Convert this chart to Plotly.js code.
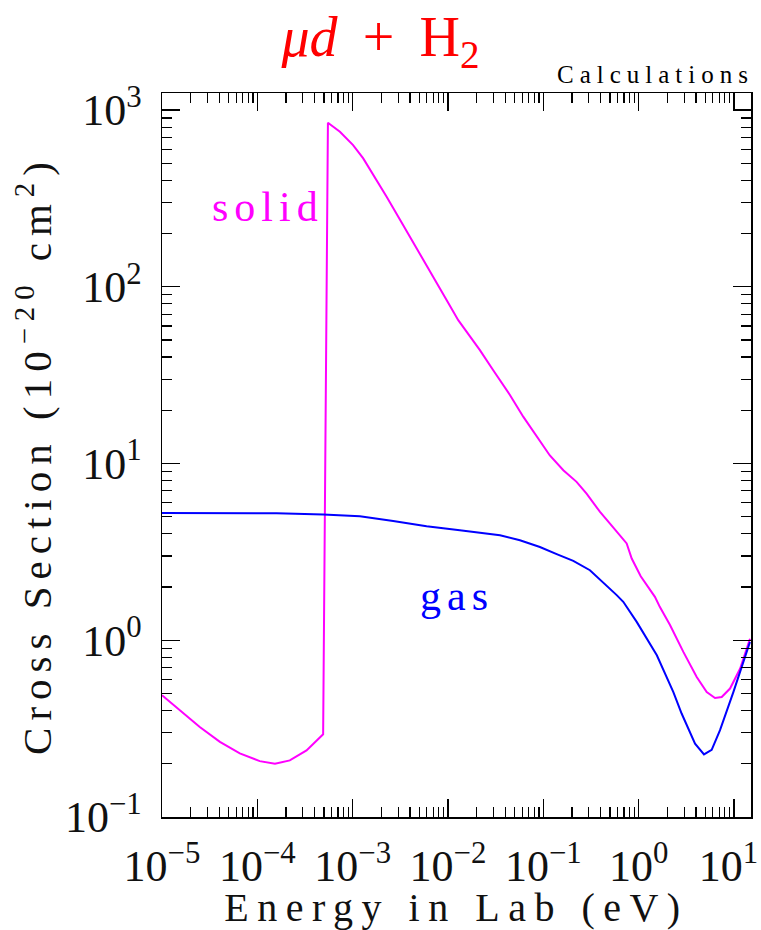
<!DOCTYPE html>
<html>
<head>
<meta charset="utf-8">
<script src="https://cdn.plot.ly/plotly-3.0.1.min.js"></script>
<style>
html,body{margin:0;padding:0;background:#fff;}
text.xtitle{letter-spacing:8.5px;}
text.ytitle{letter-spacing:7px;}
text.annotation-text{letter-spacing:6px;}
</style>
</head>
<body>
<div id="chart" style="width:761px;height:930px;"></div>
<script>
// Energy in lab frame (eV)
const solidEnergy = [1.0e-5, 1.54e-5, 2.49e-5, 4.05e-5, 6.55e-5, 1.06e-4, 1.53e-4, 2.19e-4, 3.28e-4, 4.90e-4,
  5.50e-4, 7.35e-4, 1.01e-3, 1.29e-3, 1.78e-3, 2.27e-3, 3.39e-3, 5.07e-3, 7.58e-3, 9.66e-3, 1.28e-2,
  2.16e-2, 2.98e-2, 4.46e-2, 6.15e-2, 8.51e-2, 0.117, 0.162, 0.223, 0.284, 0.393, 0.50, 0.748, 0.845,
  1.05, 1.48, 1.67, 2.13, 2.94, 4.06, 5.17, 6.32, 7.43, 9.08, 11.6, 14.7];
// Cross section, solid target (1e-20 cm^2)
const solidSigma = [0.489, 0.402, 0.323, 0.266, 0.229, 0.207, 0.200, 0.209, 0.238, 0.294,
  847, 753, 633, 532, 401, 323, 223, 154, 107, 84, 64.7,
  43.8, 33.7, 24.4, 18.4, 14.2, 11.1, 9.16, 7.87, 6.76, 5.32, 4.57, 3.53, 2.90,
  2.30, 1.76, 1.54, 1.22, 0.859, 0.620, 0.509, 0.471, 0.477, 0.533, 0.692, 1.02];

const gasEnergy = [1.0e-5, 4.05e-5, 1.59e-4, 4.90e-4, 1.19e-3, 2.66e-3, 5.96e-3, 1.33e-2, 1.84e-2,
  3.51e-2, 5.68e-2, 9.2e-2, 0.138, 0.206, 0.308, 0.461, 0.588, 0.689, 0.953, 1.55, 2.31, 2.82,
  3.90, 4.84, 5.83, 7.13, 9.84, 14.7];
const gasSigma = [5.25, 5.23, 5.23, 5.15, 5.03, 4.73, 4.42, 4.19, 4.10,
  3.93, 3.68, 3.37, 3.07, 2.81, 2.49, 2.05, 1.80, 1.65, 1.27, 0.822, 0.509, 0.385,
  0.260, 0.226, 0.240, 0.310, 0.509, 0.977];

const xTickVals = [1e-5, 1e-4, 1e-3, 1e-2, 1e-1, 1, 10];
const xTickText = ['10<sup>\u22125</sup>', '10<sup>\u22124</sup>', '10<sup>\u22123</sup>', '10<sup>\u22122</sup>',
  '10<sup>\u22121</sup>', '10<sup>0</sup>', '10<sup>1</sup>\u00a0'];
const yTickVals = [0.1, 1, 10, 100, 1000];
const yTickText = ['10<sup>\u22121</sup>', '10<sup>0</sup>', '10<sup>1</sup>', '10<sup>2</sup>', '10<sup>3</sup>'];

const seriesNames = ['solid', 'gas'];
const titleText = '<i>\u03bcd</i>\u2009 + \u2009H<sub>2</sub>';
const xTitle = 'Energy in Lab (eV)';
const yTitle = 'Cross Section (10<sup>\u221220</sup> cm<sup>2</sup>)';
const noteText = 'Calculations';

const SERIF = '"Liberation Serif", "DejaVu Serif", serif';

const traces = [
  {x: solidEnergy, y: solidSigma, name: seriesNames[0], type: 'scatter', mode: 'lines',
   line: {color: '#ff00ff', width: 2}},
  {x: gasEnergy, y: gasSigma, name: seriesNames[1], type: 'scatter', mode: 'lines',
   line: {color: '#0000ff', width: 2}}
];

const axisCommon = {
  type: 'log', showgrid: false, zeroline: false,
  showline: true, linecolor: '#000', linewidth: 1.5, mirror: 'allticks',
  ticks: 'inside', ticklen: 18, tickwidth: 1.2, tickcolor: '#000',
  tickmode: 'array', tickangle: 0, ticklabeloverflow: 'allow',
  minor: {ticks: 'inside', ticklen: 10, tickwidth: 1.2, tickcolor: '#000', dtick: 'D1', showgrid: false},
  tickfont: {family: SERIF, size: 44, color: '#111'}
};

const layout = {
  width: 761, height: 930,
  margin: {l: 162, r: 10, t: 93, b: 113},
  paper_bgcolor: '#fff', plot_bgcolor: '#fff',
  showlegend: false,
  title: {text: titleText, font: {family: SERIF, size: 56, color: '#ff0000'},
          xref: 'container', x: 0.5, xanchor: 'center', yref: 'container', y: 0.961, yanchor: 'middle'},
  xaxis: Object.assign({}, axisCommon, {
    range: [-5, 1.178], tickvals: xTickVals, ticktext: xTickText, ticklabelstandoff: 10,
    title: {text: xTitle, font: {family: SERIF, size: 40, color: '#111'}, standoff: 6}
  }),
  yaxis: Object.assign({}, axisCommon, {
    range: [-1, 3.096], tickvals: yTickVals, ticktext: yTickText, ticklabelstandoff: 10,
    title: {text: yTitle, font: {family: SERIF, size: 41, color: '#111'}, standoff: 0}
  }),
  annotations: [
    {text: seriesNames[0], xref: 'paper', yref: 'paper', x: (268 - 162) / 589, y: (817 - 207) / 724,
     showarrow: false, xanchor: 'center', yanchor: 'middle', font: {family: SERIF, size: 42, color: '#ff00ff'}},
    {text: seriesNames[1], xref: 'paper', yref: 'paper', x: (457 - 162) / 589, y: (817 - 596) / 724,
     showarrow: false, xanchor: 'center', yanchor: 'middle', font: {family: SERIF, size: 42, color: '#0000ff'}},
    {text: noteText, xref: 'paper', yref: 'paper', x: 1.008, y: (817 - 75) / 724,
     showarrow: false, xanchor: 'right', yanchor: 'middle', font: {family: SERIF, size: 25, color: '#000'}}
  ]
};

Plotly.newPlot('chart', traces, layout, {displayModeBar: false, staticPlot: true});
</script>
</body>
</html>
